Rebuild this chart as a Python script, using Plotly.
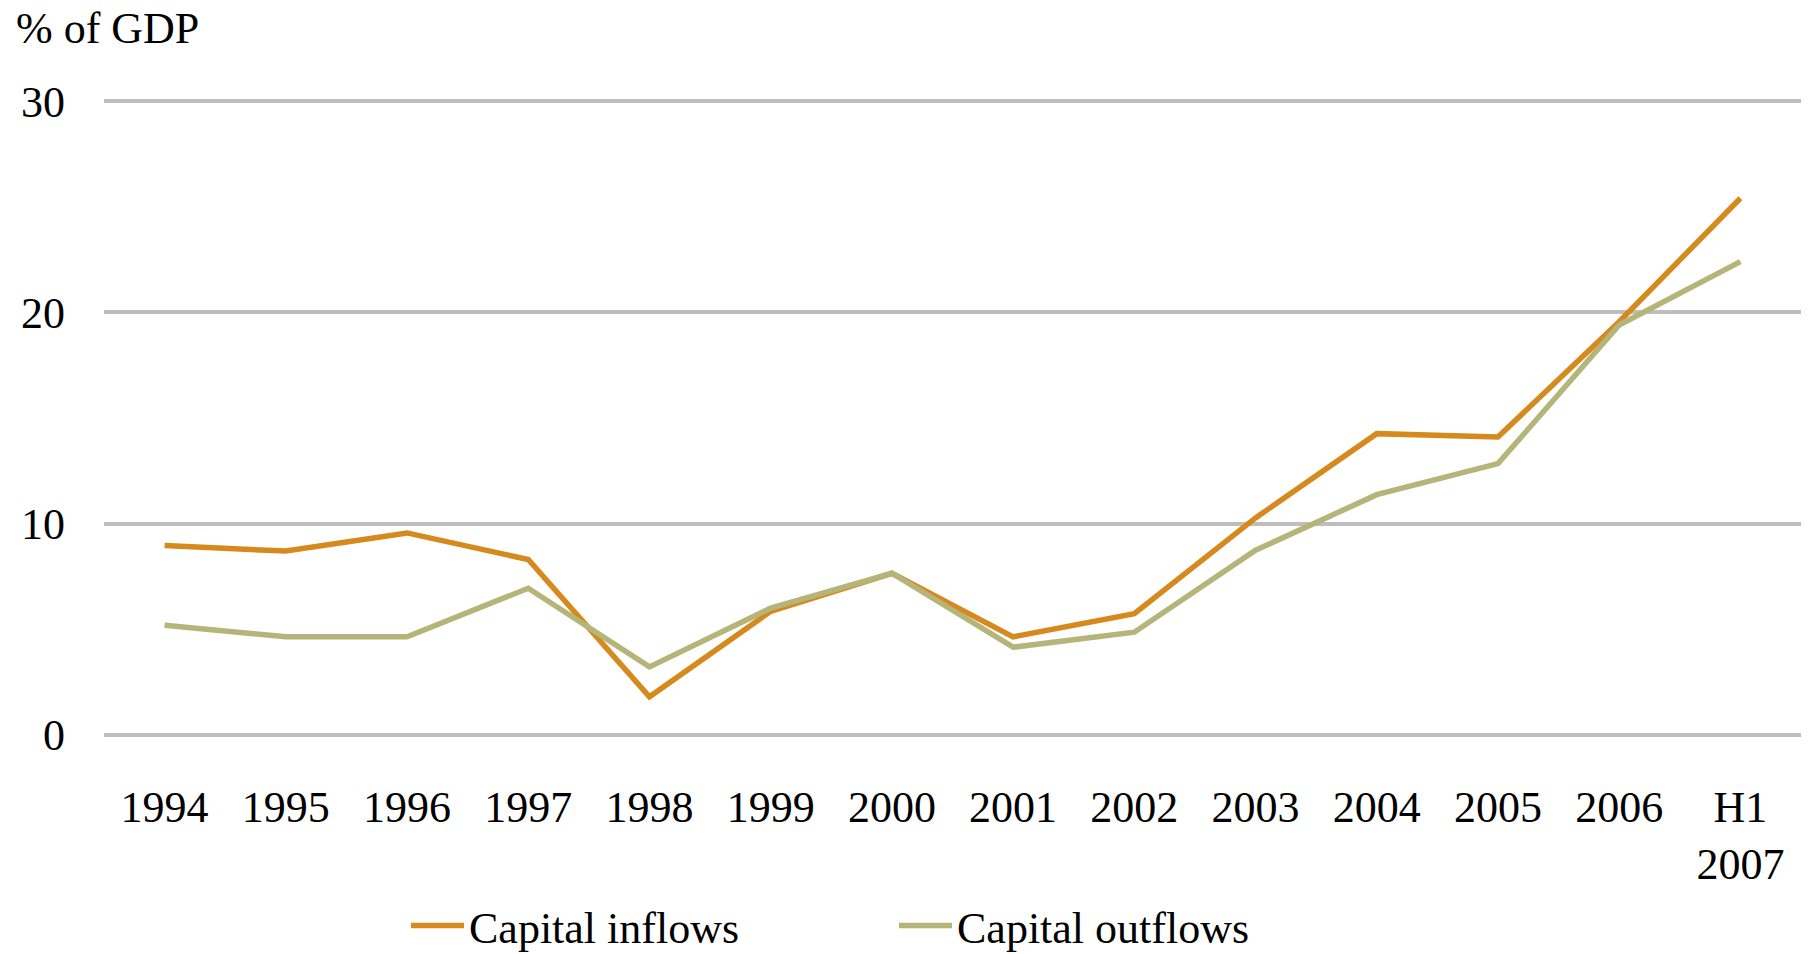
import plotly.graph_objects as go

categories = ["1994", "1995", "1996", "1997", "1998", "1999", "2000", "2001",
              "2002", "2003", "2004", "2005", "2006", "H1<br>2007"]
inflows = [8.96, 8.7, 9.56, 8.3, 1.8, 5.85, 7.65, 4.64, 5.74, 10.27, 14.26, 14.1, 19.56, 25.4]
outflows = [5.19, 4.64, 4.64, 6.94, 3.22, 6.0, 7.65, 4.15, 4.86, 8.74, 11.37, 12.84, 19.4, 22.4]
y_ticks = [0, 10, 20, 30]

FONT = "Liberation Serif, Times New Roman, serif"
W, H = 1808, 954
PX_PER_UNIT = 21.13
PAD = 0.1
L, R = 104, 7
T = int(round(101 - PAD * PX_PER_UNIT))
ph = int(round((30 + 2 * PAD) * PX_PER_UNIT))
B = H - T - ph
pw = W - L - R

fig = go.Figure()
fig.add_trace(go.Scatter(x=categories, y=inflows, mode="lines", name="Capital inflows",
                         line=dict(color="#D68A1E", width=5.5)))
fig.add_trace(go.Scatter(x=categories, y=outflows, mode="lines", name="Capital outflows",
                         line=dict(color="#B5B57A", width=5.5)))

fig.update_layout(
    width=W, height=H,
    margin=dict(l=L, r=R, t=T, b=B, pad=0, autoexpand=False),
    paper_bgcolor="white", plot_bgcolor="white",
    font=dict(family=FONT, size=44, color="black"),
    showlegend=True,
    legend=dict(orientation="h", x=(406 - L) / pw, xanchor="left",
                y=(T + ph - 926) / ph, yanchor="middle",
                font=dict(size=44), entrywidth=420, entrywidthmode="pixels",
                itemwidth=53, bgcolor="rgba(0,0,0,0)"),
    xaxis=dict(type="category", showgrid=False, showline=False, ticks="",
               tickfont=dict(size=44), ticklabelstandoff=40, automargin=False,
               range=[-0.5, len(categories) - 0.5]),
    yaxis=dict(range=[-PAD, 30 + PAD], tickvals=y_ticks, showgrid=True, gridcolor="#BEBEBE",
               gridwidth=3.5, zeroline=False, showline=False, ticks="",
               tickfont=dict(size=44), ticklabelstandoff=38, automargin=False),
    annotations=[dict(text="% of GDP", xref="paper", yref="paper",
                      x=(14 - L) / pw, xanchor="left",
                      y=1 + (T - 2) / ph, yanchor="top", showarrow=False,
                      font=dict(size=44, family=FONT))],
)

fig.write_html("out.html")
